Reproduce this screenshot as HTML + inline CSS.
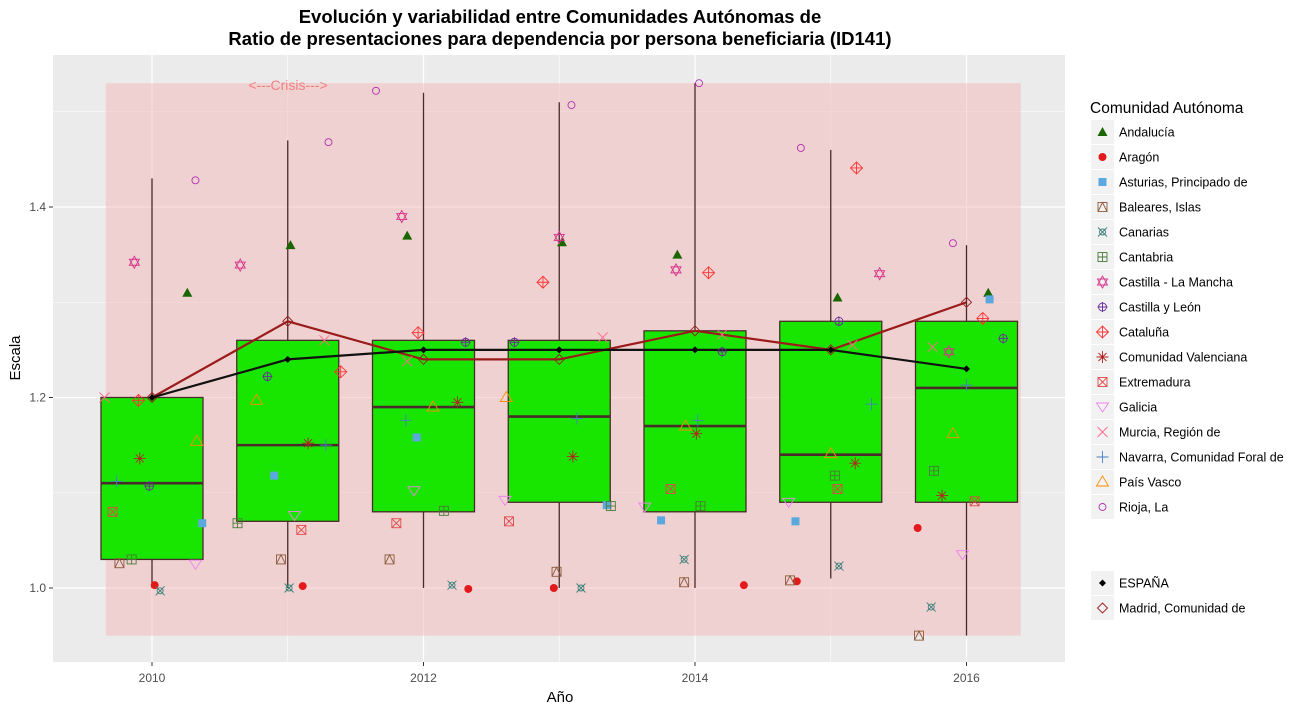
<!DOCTYPE html>
<html><head><meta charset="utf-8"><style>
body{margin:0;background:#fff;}
svg{display:block;font-family:"Liberation Sans",Arial,sans-serif;}
</style></head><body>
<svg id="chart" width="1299" height="710" viewBox="0 0 1299 710">
<text x="560" y="23" text-anchor="middle" font-size="18.5" font-weight="bold" fill="#000">Evolución y variabilidad entre Comunidades Autónomas de</text>
<text x="560" y="45" text-anchor="middle" font-size="18.5" font-weight="bold" fill="#000">Ratio de presentaciones para dependencia por persona beneficiaria (ID141)</text>
<rect x="53" y="55" width="1012" height="607" fill="#ebebeb"/>
<g id="grid"></g>
<rect id="crisis" fill="#f4b8b8" opacity="0.5"/>
<text x="288" y="90" text-anchor="middle" font-size="14" fill="#f08080">&lt;---Crisis---&gt;</text>
<g id="boxes"></g>
<g id="lines"></g>
<g id="pts"></g>
<g id="axes"></g>
<text x="560" y="702" text-anchor="middle" font-size="15" fill="#000">Año</text>
<text transform="translate(20,358) rotate(-90)" text-anchor="middle" font-size="15" fill="#000">Escala</text>
<text x="1090" y="113" font-size="15.5" fill="#000">Comunidad Autónoma</text>
<g id="legend"></g>
</svg>
<script>
const years=[2010,2011,2012,2013,2014,2015,2016];
const yTicks=[1.0,1.2,1.4];
const xTicks=[2010,2012,2014,2016];
const wLow=[1.0,1.0,1.0,1.0,1.0,1.01,0.95];
const q1=[1.03,1.07,1.08,1.09,1.08,1.09,1.09];
const med=[1.11,1.15,1.19,1.18,1.17,1.14,1.21];
const q3=[1.2,1.26,1.26,1.26,1.27,1.28,1.28];
const wHigh=[1.43,1.47,1.52,1.51,1.53,1.46,1.36];
const espana=[1.2,1.24,1.25,1.25,1.25,1.25,1.23];
const madrid=[1.2,1.28,1.24,1.24,1.27,1.25,1.30];
const regions=["Andalucía","Aragón","Asturias, Principado de","Baleares, Islas","Canarias","Cantabria","Castilla - La Mancha","Castilla y León","Cataluña","Comunidad Valenciana","Extremadura","Galicia","Murcia, Región de","Navarra, Comunidad Foral de","País Vasco","Rioja, La"];
const colors=["#1a6600","#e31a1c","#5aa8de","#8b5a3c","#3a7f7a","#4a7a3a","#d6338a","#6a2c9a","#ff3333","#b22222","#e04848","#ee82ee","#ff6b8a","#4a7fc0","#ff8c00","#b030b0"];
const shapes=["tri","dot","sq","sqtri","canx","sqplus","star","cplus","dplus","aster","sqx","tridown","x","plus","triopen","circ"];
const ptYear=[
[2010.26,2011.02,2011.88,2013.02,2013.87,2015.05,2016.16],
[2010.02,2011.11,2012.33,2012.96,2014.36,2014.75,2015.64],
[2010.37,2010.9,2011.95,2013.35,2013.75,2014.74,2016.17],
[2009.76,2010.95,2011.75,2012.98,2013.92,2014.7,2015.65],
[2010.06,2011.01,2012.21,2013.16,2013.92,2015.06,2015.74],
[2009.85,2010.63,2012.15,2013.38,2014.04,2015.03,2015.76],
[2009.87,2010.65,2011.84,2013.0,2013.86,2015.36,2015.87],
[2009.98,2010.85,2012.31,2012.67,2014.2,2015.06,2016.27],
[2009.9,2011.39,2011.96,2012.88,2014.1,2015.19,2016.12],
[2009.91,2011.15,2012.25,2013.1,2014.01,2015.18,2015.82],
[2009.71,2011.1,2011.8,2012.63,2013.82,2015.05,2016.06],
[2010.32,2011.05,2011.93,2012.6,2013.63,2014.69,2015.97],
[2009.65,2011.27,2011.88,2013.32,2014.2,2015.16,2015.75],
[2009.74,2011.28,2011.87,2013.13,2014.02,2015.3,2016.0],
[2010.33,2010.77,2012.07,2012.61,2013.93,2015.0,2015.9],
[2010.32,2011.3,2011.65,2013.09,2014.03,2014.78,2015.9]];
const ptVal=[
[1.31,1.36,1.37,1.363,1.35,1.305,1.31],
[1.003,1.002,0.999,1.0,1.003,1.007,1.063],
[1.068,1.118,1.158,1.087,1.071,1.07,1.303],
[1.026,1.03,1.03,1.017,1.006,1.008,0.95],
[0.997,1.0,1.003,1.0,1.03,1.023,0.98],
[1.03,1.068,1.081,1.086,1.086,1.118,1.123],
[1.342,1.339,1.39,1.368,1.334,1.33,1.248],
[1.107,1.222,1.258,1.258,1.248,1.28,1.262],
[1.197,1.227,1.268,1.321,1.331,1.441,1.283],
[1.136,1.152,1.195,1.138,1.162,1.131,1.097],
[1.08,1.061,1.068,1.07,1.104,1.104,1.091],
[1.025,1.076,1.102,1.092,1.085,1.09,1.035],
[1.2,1.26,1.238,1.263,1.266,1.255,1.253],
[1.112,1.15,1.176,1.178,1.176,1.193,1.213],
[1.154,1.197,1.19,1.2,1.17,1.141,1.162],
[1.428,1.468,1.522,1.507,1.53,1.462,1.362]];

const NS="http://www.w3.org/2000/svg";
const X=v=>152+(v-2010)*135.75;
const Y=v=>588-(v-1)*952.5;
function mk(parent,tag,attrs){const e=document.createElementNS(NS,tag);for(const k in attrs)e.setAttribute(k,attrs[k]);document.getElementById(parent).appendChild(e);return e;}

// grid
for(let v=0.9;v<=1.55;v+=0.1){const y=Y(v);if(y<55||y>662)continue;const major=Math.abs(Math.round(v*10)%2)===0;
 const l=mk('grid','line',{x1:53,x2:1065,y1:y,y2:y,stroke:'#fff','stroke-width':major?1.2:0.6});
 
 }
for(let yr=2010;yr<=2016;yr++){const x=X(yr);const major=yr%2===0;
 const l=mk('grid','line',{x1:x,x2:x,y1:55,y2:662,stroke:'#fff','stroke-width':major?1.2:0.6});
 
 }
const cr=document.getElementById('crisis');
cr.setAttribute('x',X(2009.66));cr.setAttribute('width',X(2016.4)-X(2009.66));
cr.setAttribute('y',Y(1.53));cr.setAttribute('height',Y(0.95)-Y(1.53));

// boxes
years.forEach((yr,i)=>{const x=X(yr),hw=51;
 const w=mk('boxes','line',{x1:x,x2:x,y1:Y(wLow[i]),y2:Y(wHigh[i]),stroke:'#4a2a2a','stroke-width':1.3});
 
 
 const b=mk('boxes','rect',{x:x-hw,y:Y(q3[i]),width:2*hw,height:Y(q1[i])-Y(q3[i]),fill:'#19e600',stroke:'#4a2a2a','stroke-width':1.3});
 
 
 const m=mk('boxes','line',{x1:x-hw,x2:x+hw,y1:Y(med[i]),y2:Y(med[i]),stroke:'#4a2a2a','stroke-width':2.6});
 
 });

// lines
function series(arr,color,name,marker){const d=arr.map((v,i)=>(i?'L':'M')+X(years[i])+','+Y(v)).join('');
 const p=mk('lines','path',{d:d,fill:'none',stroke:color,'stroke-width':2.2});
 
 
 arr.forEach((v,i)=>{const g=marker(X(years[i]),Y(v),'lines');
  
  });}

function shape(type,x,y,c,parent){const g=mk(parent,'g',{stroke:c,fill:'none','stroke-width':0.9});
 const add=(t,a)=>{const e=document.createElementNS(NS,t);for(const k in a)e.setAttribute(k,a[k]);g.appendChild(e);};
 const s=4.5;
 switch(type){
 case 'tri':add('polygon',{points:`${x},${y-5} ${x-5},${y+4} ${x+5},${y+4}`,fill:c,stroke:'none'});break;
 case 'dot':add('circle',{cx:x,cy:y,r:4,fill:c,stroke:'none'});break;
 case 'sq':add('rect',{x:x-4,y:y-4,width:8,height:8,fill:c,stroke:'none'});break;
 case 'sqtri':add('rect',{x:x-s,y:y-s,width:2*s,height:2*s});add('path',{d:`M${x-s},${y+s}L${x},${y-s}L${x+s},${y+s}`});break;
 case 'canx':add('path',{d:`M${x-s},${y-s}L${x+s},${y+s}M${x+s},${y-s}L${x-s},${y+s}`});add('circle',{cx:x,cy:y,r:3});break;
 case 'sqplus':add('rect',{x:x-s,y:y-s,width:2*s,height:2*s});add('path',{d:`M${x-s},${y}H${x+s}M${x},${y-s}V${y+s}`});break;
 case 'star':add('polygon',{points:`${x},${y-6} ${x-5},${y+3} ${x+5},${y+3}`});add('polygon',{points:`${x},${y+6} ${x-5},${y-3} ${x+5},${y-3}`});break;
 case 'cplus':add('circle',{cx:x,cy:y,r:4});add('path',{d:`M${x-5},${y}H${x+5}M${x},${y-5}V${y+5}`});break;
 case 'dplus':add('polygon',{points:`${x},${y-6} ${x+6},${y} ${x},${y+6} ${x-6},${y}`});add('path',{d:`M${x-6},${y}H${x+6}M${x},${y-6}V${y+6}`});break;
 case 'aster':add('path',{d:`M${x-6},${y}H${x+6}M${x},${y-6}V${y+6}M${x-4},${y-4}L${x+4},${y+4}M${x+4},${y-4}L${x-4},${y+4}`});break;
 case 'sqx':add('rect',{x:x-s,y:y-s,width:2*s,height:2*s});add('path',{d:`M${x-s},${y-s}L${x+s},${y+s}M${x+s},${y-s}L${x-s},${y+s}`});break;
 case 'tridown':add('polygon',{points:`${x-6},${y-4} ${x+6},${y-4} ${x},${y+5}`});break;
 case 'x':add('path',{d:`M${x-5},${y-5}L${x+5},${y+5}M${x+5},${y-5}L${x-5},${y+5}`});break;
 case 'plus':add('path',{d:`M${x-6},${y}H${x+6}M${x},${y-6}V${y+6}`});break;
 case 'triopen':add('polygon',{points:`${x},${y-6} ${x-6},${y+4} ${x+6},${y+4}`});break;
 case 'circ':add('circle',{cx:x,cy:y,r:3.5});break;
 case 'diamond':add('polygon',{points:`${x},${y-5} ${x+5},${y} ${x},${y+5} ${x-5},${y}`});break;
 case 'bdot':add('polygon',{points:`${x},${y-3.5} ${x+3.5},${y} ${x},${y+3.5} ${x-3.5},${y}`,fill:c,stroke:'none'});break;
 }
 return g;}

series(madrid,'#9b1b1b','madrid',(x,y,p)=>shape('diamond',x,y,'#9b1b1b',p));
series(espana,'#111','espana',(x,y,p)=>shape('bdot',x,y,'#000',p));

// points
regions.forEach((r,ri)=>{ptVal[ri].forEach((v,i)=>{
 const g=shape(shapes[ri],X(ptYear[ri][i]),Y(v),colors[ri],'pts');
 
 });});

// axes
yTicks.forEach(t=>{const y=Y(t);
 const l=mk('axes','line',{x1:49,x2:53,y1:y,y2:y,stroke:'#333','stroke-width':1});
 
 
 const tx=mk('axes','text',{x:46,y:y+4,'text-anchor':'end','font-size':12,fill:'#4d4d4d'});
 tx.textContent=t.toFixed(1);
 
 });
xTicks.forEach(t=>{const x=X(t);
 const l=mk('axes','line',{x1:x,x2:x,y1:662,y2:666,stroke:'#333','stroke-width':1});
 
 
 const tx=mk('axes','text',{x:x,y:682,'text-anchor':'middle','font-size':12,fill:'#4d4d4d'});
 tx.textContent=t;
 
 });

// legend
function legendEntry(y,label,type,c){
 const k=mk('legend','rect',{x:1091,y:y-12,width:23,height:24,fill:'#f2f2f2'});
 
 
 const g=shape(type,1102.5,y,c,'legend');
 
 
 const t=mk('legend','text',{x:1119,y:y+4.5,'font-size':12.5,fill:'#000'});
 t.textContent=label;
 
 }
regions.forEach((r,i)=>legendEntry(132+i*25,r,shapes[i],colors[i]));
legendEntry(583,'ESPAÑA','bdot','#000');
legendEntry(608,'Madrid, Comunidad de','diamond','#9b1b1b');
</script>
</body></html>
